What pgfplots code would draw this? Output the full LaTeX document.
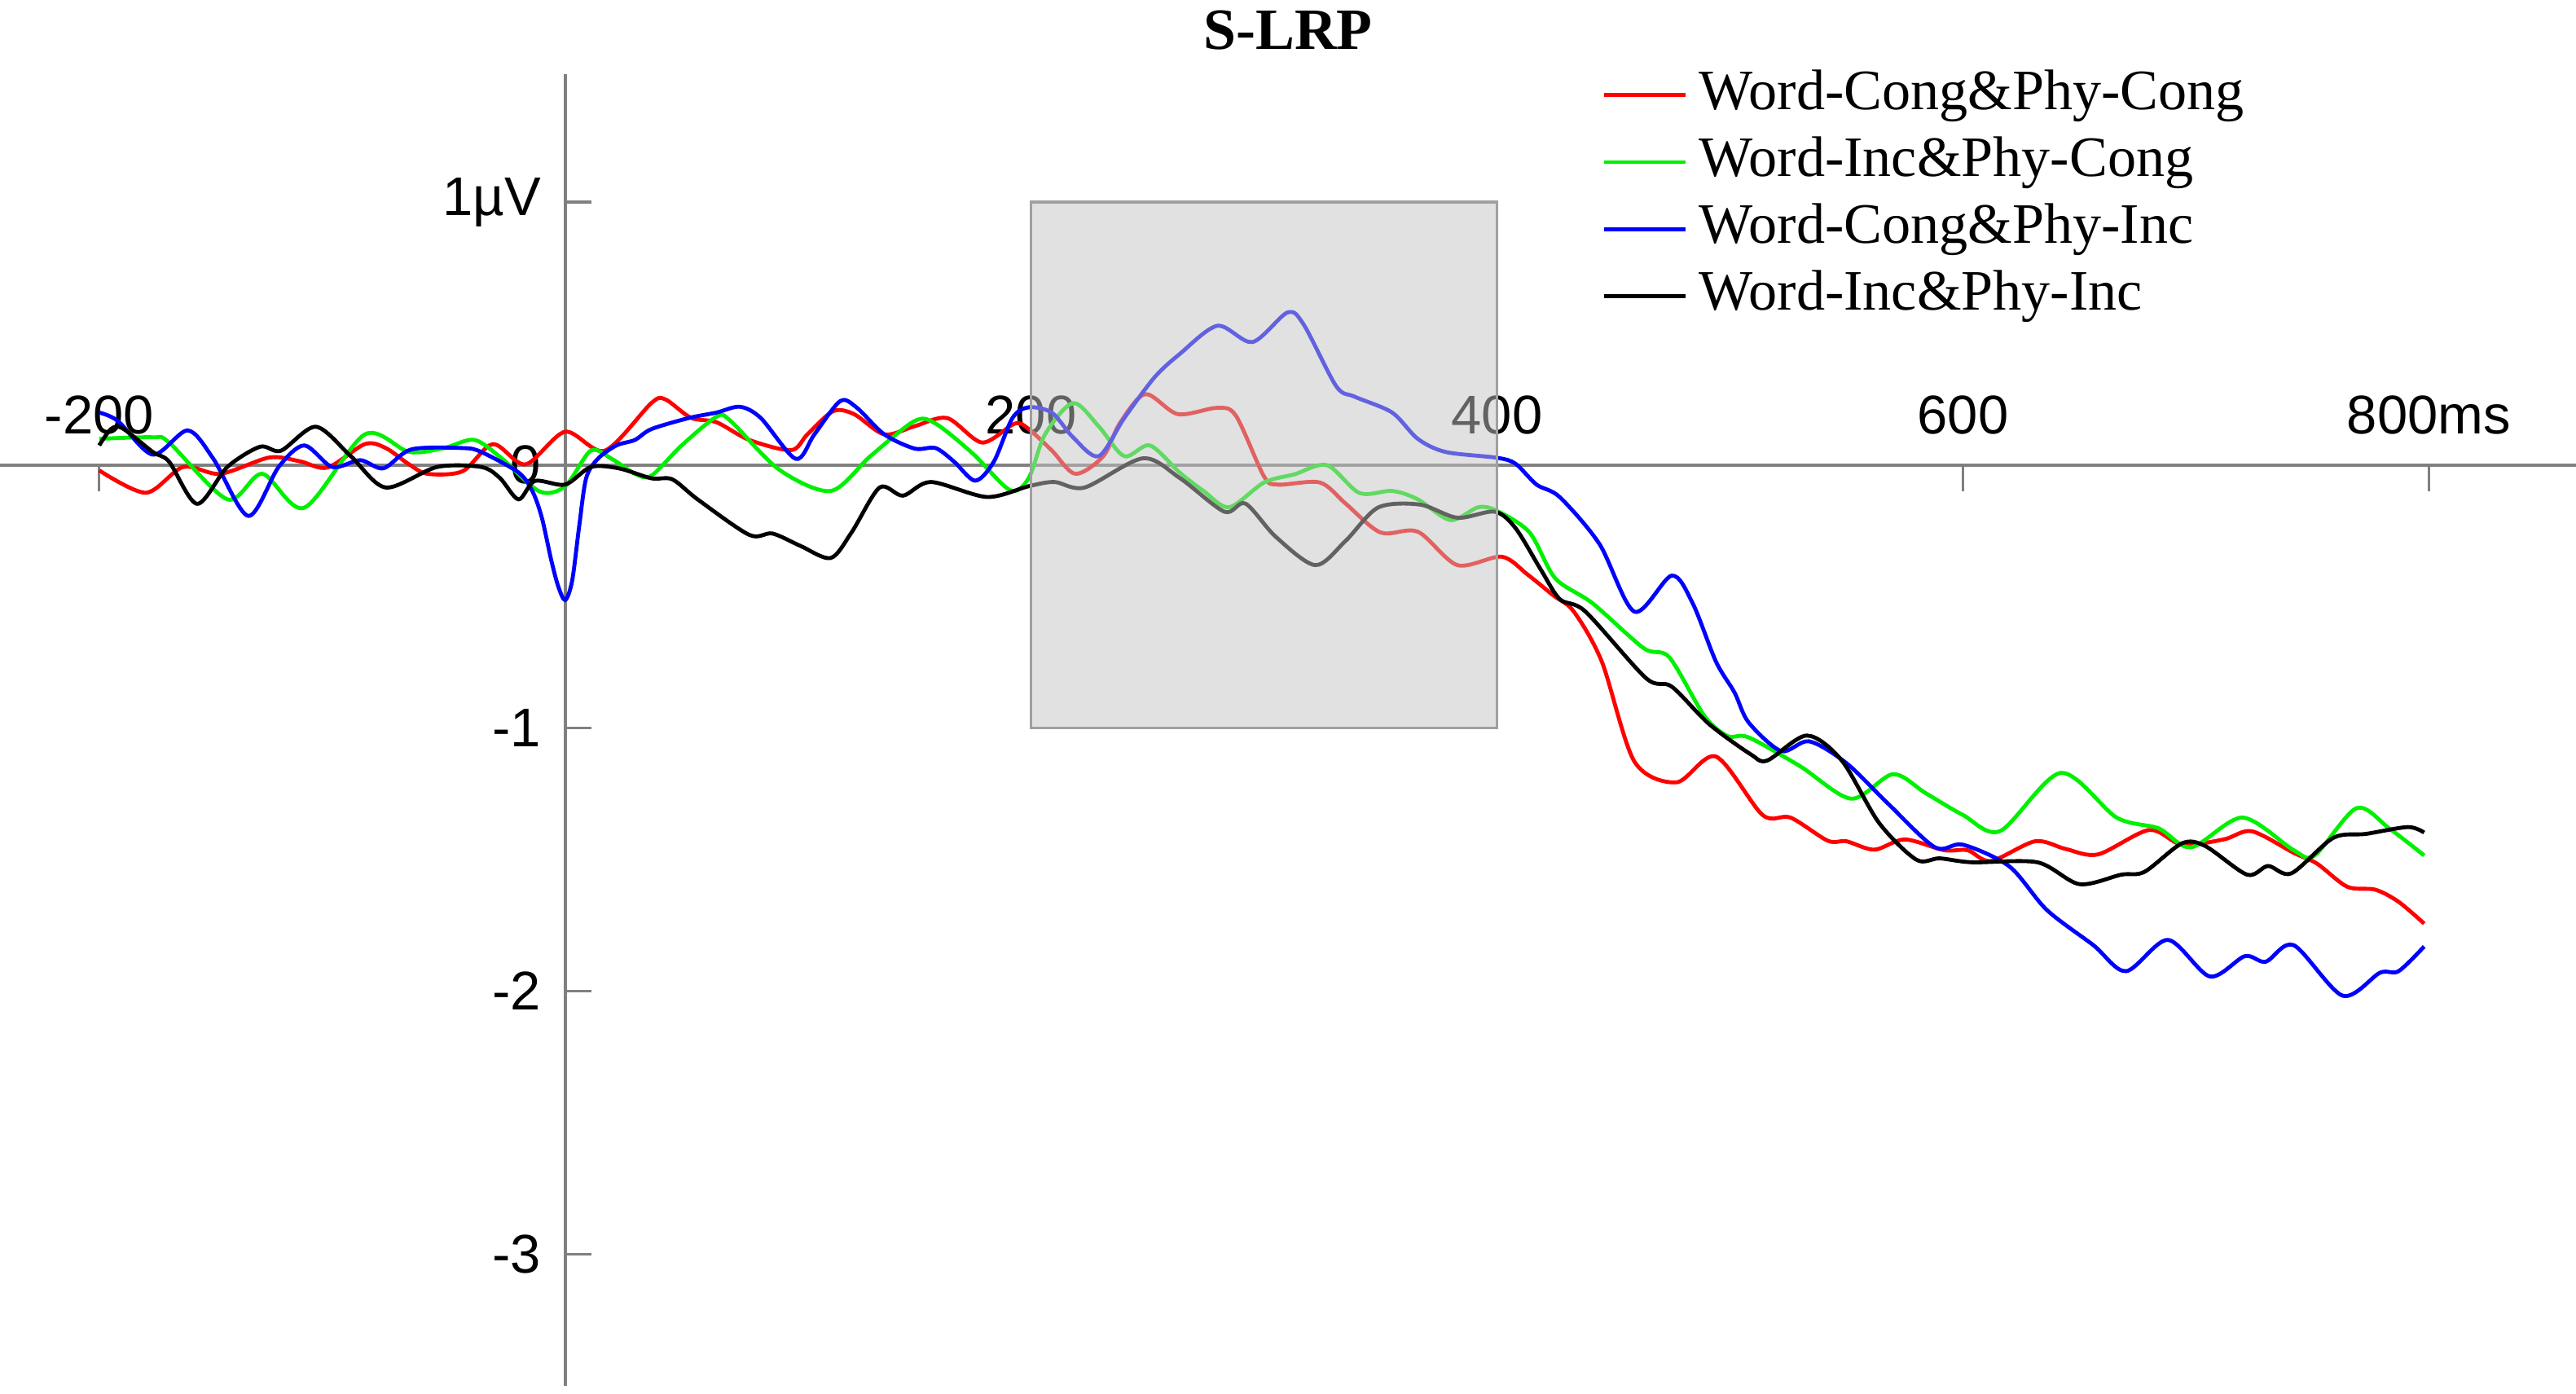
\documentclass[border=0pt]{standalone}
\usepackage{pgfplots}
\pgfplotsset{compat=1.18}
\usepackage{fontspec}
\setmainfont{Liberation Serif}
\newfontfamily\arialfont{Liberation Sans}
\definecolor{cRed}{HTML}{FF0000}
\definecolor{cGreen}{HTML}{00F000}
\definecolor{cBlue}{HTML}{0000FF}
\definecolor{cBlack}{HTML}{000000}
\definecolor{axisGray}{HTML}{808080}
\definecolor{boxFill}{HTML}{C4C4C4}
\definecolor{boxEdge}{HTML}{A0A0A0}
\begin{document}
\begin{tikzpicture}
\begin{axis}[
  scale only axis,
  width=392pt, height=199.6pt,
  xmin=-242.6, xmax=863.2,
  ymin=-3.5, ymax=1.4875,
  axis lines=middle,
  axis line style={-, draw=axisGray, line width=0.5pt},
  xtick={-200,200,400,600,800},
  xticklabels={-200,200,400,600,800ms},
  ytick={-3,-2,-1,0,1},
  yticklabels={-3,-2,-1,0,1µV},
  hide obscured x ticks=false,
  hide obscured y ticks=false,
  tick style={draw=axisGray, line width=0.4pt},
  major tick length=4pt,
  xtick align=outside,
  ytick align=inside,
  /pgf/number format/assume math mode=true,
  ticklabel style={font=\arialfont\fontsize{8.3}{10}\selectfont, inner sep=0pt},
  xticklabel style={anchor=south, yshift=8.5pt},
  yticklabel style={anchor=east, xshift=-3.5pt},
  clip=false,
  legend cell align=left,
  legend image code/.code={\draw[#1] (0pt,0pt) -- (12.5pt,0pt);},
  legend style={at={(0.6218,1.0041)}, anchor=north west, draw=none, fill=none,
    inner sep=0pt, outer sep=0pt, row sep=2.1pt,
    font=\fontsize{8.7}{10}\selectfont,
    nodes={inner sep=0pt, text height=6.2pt, text depth=1.9pt},
    /tikz/every odd column/.append style={column sep=1.75pt}},
  every axis plot/.append style={line width=0.6pt, smooth, tension=0.5},
]
\addplot[cRed] coordinates {
(-200,-0.02) (-180,-0.105) (-164,-0.007) (-148,-0.033) (-127,0.029) (-114,0.015)
(-102,-0.009) (-86,0.08) (-77,0.065) (-67,0.003) (-59,-0.033) (-44,-0.023)
(-31,0.08) (-17,0.003) (0,0.127) (17,0.055) (37,0.236) (43,0.25) (54,0.18)
(65,0.163) (79,0.096) (97,0.057) (104,0.117) (115,0.205) (124,0.194) (137,0.117)
(150,0.148) (164,0.179) (179,0.086) (193,0.158) (199,0.137) (209,0.055) (219,-0.033)
(231,0.034) (238,0.158) (249,0.27) (263,0.194) (280,0.218) (288,0.187) (300,-0.043)
(306,-0.074) (324,-0.066) (335,-0.146) (350,-0.256) (366,-0.253) (383,-0.38)
(402,-0.348) (413,-0.415) (424,-0.494) (433,-0.557) (445,-0.747) (459,-1.127)
(477,-1.206) (494,-1.108) (514,-1.33) (526,-1.34) (542,-1.428) (550,-1.43)
(562,-1.462) (575,-1.423) (592,-1.464) (602,-1.464) (612,-1.505) (631,-1.43)
(644,-1.459) (658,-1.48) (680,-1.387) (694,-1.443) (712,-1.423) (724,-1.392)
(742,-1.474) (752,-1.515) (765,-1.603) (777,-1.614) (787,-1.66) (798,-1.743)
};
\addlegendentry{Word-Cong\&Phy-Cong}
\addplot[cGreen] coordinates {
(-200,0.10) (-177,0.106) (-170,0.086) (-145,-0.13) (-130,-0.033) (-112,-0.162)
(-86,0.117) (-67,0.05) (-52,0.065) (-39,0.096) (-27,0.024) (-11,-0.10) (0,-0.08)
(11,0.055) (20,0.024) (30,-0.033) (37,-0.04) (50,0.075) (65,0.184) (71,0.168)
(92,-0.018) (114,-0.098) (131,0.034) (150,0.168) (159,0.158) (175,0.044)
(191,-0.095) (199,-0.049) (206,0.117) (218,0.236) (229,0.148) (240,0.034)
(251,0.075) (264,-0.03) (274,-0.098) (285,-0.16) (300,-0.066) (313,-0.035)
(327,0) (341,-0.106) (355,-0.098) (366,-0.13) (380,-0.209) (392,-0.16) (400,-0.174)
(414,-0.256) (425,-0.43) (441,-0.525) (463,-0.696) (474,-0.731) (489,-0.953)
(499,-1.03) (508,-1.035) (530,-1.144) (552,-1.268) (570,-1.175) (584,-1.247)
(600,-1.33) (616,-1.391) (642,-1.17) (666,-1.34) (684,-1.381) (698,-1.453)
(720,-1.34) (742,-1.464) (751,-1.484) (769,-1.304) (783,-1.381) (798,-1.484)
};
\addlegendentry{Word-Inc\&Phy-Cong}
\addplot[cBlue] coordinates {
(-200,0.20) (-192,0.168) (-177,0.04) (-162,0.132) (-151,0.024) (-136,-0.193)
(-123,-0.007) (-112,0.075) (-100,-0.007) (-88,0.019) (-78,-0.012) (-66,0.06)
(-44,0.065) (-36,0.05) (-20,-0.028) (-14,-0.10) (-10,-0.2) (-6,-0.36) (-3,-0.46)
(0,-0.513) (3,-0.44) (6,-0.234) (9,-0.05) (14,0.024) (22,0.075) (30,0.096)
(37,0.137) (53,0.179) (65,0.20) (75,0.222) (84,0.179) (99,0.024) (107,0.117)
(118,0.243) (125,0.22) (137,0.117) (150,0.063) (159,0.065) (167,0.013) (176,-0.059)
(184,0.013) (192,0.179) (199,0.22) (209,0.199) (218,0.106) (229,0.034) (240,0.179)
(253,0.334) (264,0.424) (280,0.53) (295,0.468) (310,0.58) (317,0.535) (331,0.30)
(339,0.26) (355,0.20) (366,0.10) (378,0.05) (400,0.028) (408,0.005) (417,-0.074)
(427,-0.122) (444,-0.30) (459,-0.557) (475,-0.42) (484,-0.525) (494,-0.747)
(502,-0.865) (508,-0.978) (522,-1.087) (534,-1.05) (550,-1.133) (568,-1.288)
(588,-1.453) (600,-1.443) (620,-1.526) (636,-1.691) (656,-1.825) (670,-1.924)
(688,-1.805) (706,-1.944) (721,-1.867) (730,-1.888) (742,-1.825) (763,-2.017)
(779,-1.93) (787,-1.924) (798,-1.83)
};
\addlegendentry{Word-Cong\&Phy-Inc}
\addplot[cBlack] coordinates {
(-200,0.075) (-195,0.137) (-190,0.14) (-177,0.05) (-170,0.013) (-158,-0.147)
(-145,-0.007) (-131,0.07) (-122,0.055) (-107,0.146) (-92,0.034) (-77,-0.085)
(-55,-0.007) (-36,-0.007) (-28,-0.049) (-20,-0.13) (-13,-0.06) (0,-0.074)
(11,-0.007) (23,-0.012) (37,-0.05) (46,-0.054) (57,-0.131) (79,-0.265) (89,-0.26)
(101,-0.307) (114,-0.353) (123,-0.255) (135,-0.085) (145,-0.116) (157,-0.064)
(181,-0.121) (199,-0.08) (210,-0.064) (223,-0.085) (248,0.026) (264,-0.05)
(283,-0.177) (292,-0.146) (305,-0.272) (322,-0.38) (335,-0.288) (349,-0.161)
(367,-0.15) (383,-0.20) (399,-0.177) (408,-0.24) (419,-0.40) (427,-0.51)
(438,-0.557) (464,-0.81) (475,-0.842) (491,-0.984) (509,-1.10) (516,-1.123)
(533,-1.028) (548,-1.123) (564,-1.36) (580,-1.50) (590,-1.495) (604,-1.51)
(632,-1.51) (650,-1.593) (668,-1.557) (678,-1.546) (694,-1.438) (704,-1.448)
(722,-1.557) (731,-1.524) (741,-1.552) (759,-1.417) (773,-1.402) (791,-1.376)
(798,-1.397)
};
\addlegendentry{Word-Inc\&Phy-Inc}
\node[anchor=base, font=\bfseries\fontsize{8.9}{10}\selectfont] at (rel axis cs:0.5,1.0188) {S-LRP};
\coordinate (bx1) at (axis cs:200,-1);
\coordinate (bx2) at (axis cs:400,1);
\end{axis}
\filldraw[fill=boxFill, fill opacity=0.5, draw=boxEdge, line width=0.4pt] (bx1) rectangle (bx2);
\pgfresetboundingbox
\path ([yshift=-1.25pt]current axis.south west) rectangle ([yshift=11.25pt]current axis.north east);
\end{tikzpicture}
\end{document}
